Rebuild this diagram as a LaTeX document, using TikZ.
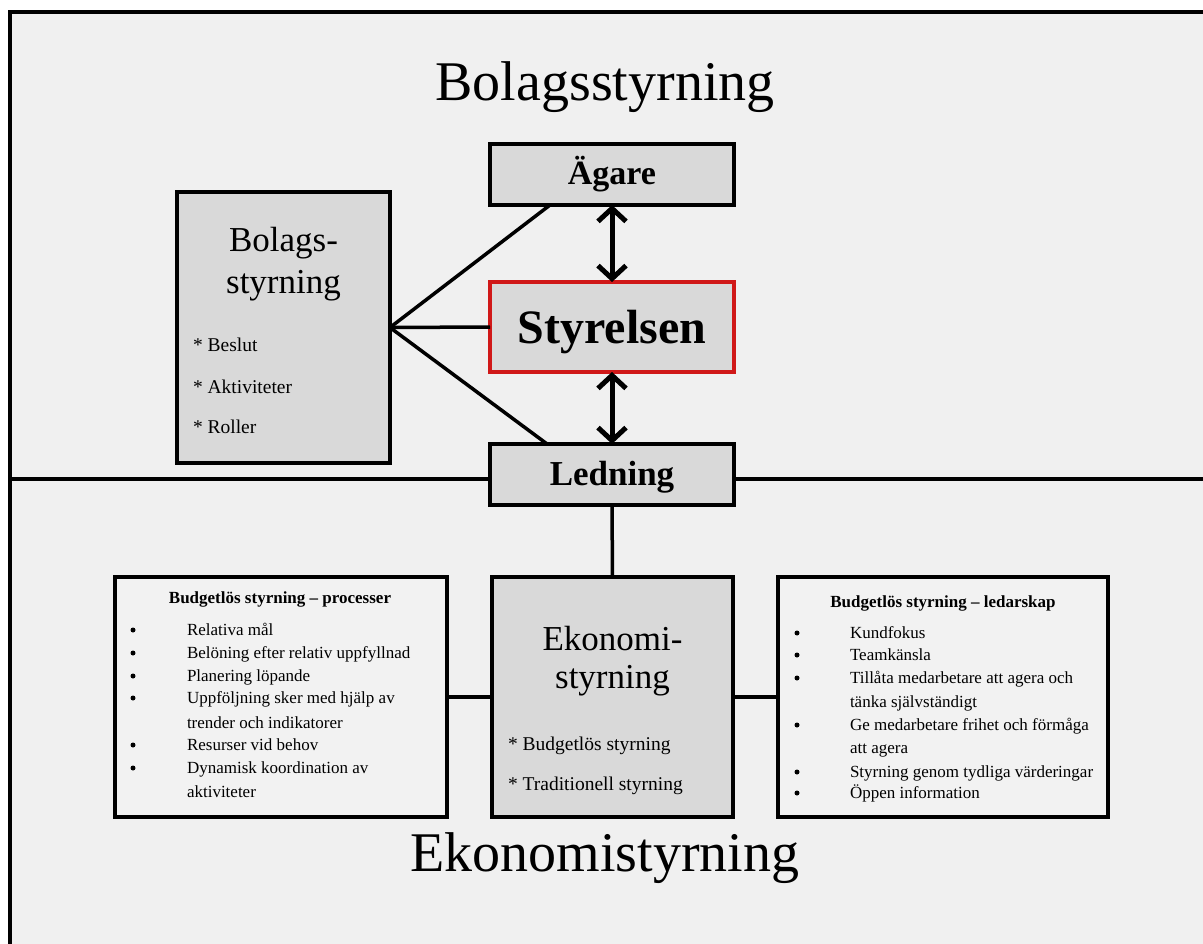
\documentclass[tikz,border=0pt]{standalone}
\usepackage{fontspec}
\setmainfont{Liberation Serif}
\usetikzlibrary{arrows.meta,calc}
\definecolor{bggray}{HTML}{F0F0F0}
\definecolor{boxgray}{HTML}{D9D9D9}
\definecolor{listgray}{HTML}{F2F2F2}
\definecolor{boardred}{HTML}{D01818}
\begin{document}
\begin{tikzpicture}[x=1pt,y=-1pt,
  box/.style={rectangle, draw=black, line width=3.5pt, fill=boxgray, inner sep=0pt, outer sep=0pt},
  listbox/.style={box, fill=listgray},
  redbox/.style={box, draw=boardred},
  link/.style={draw=black, line width=3.5pt},
  twoway/.style={draw=black, line width=5pt,
    {Straight Barb[length=13pt,width=28pt]}-{Straight Barb[length=13pt,width=28pt]}},
  lbl/.style={inner sep=0pt, outer sep=0pt, anchor=base},
  lblw/.style={inner sep=0pt, outer sep=0pt, anchor=base west},
  bigtitle/.style={lbl, font=\fontsize{56}{60}\selectfont},
  boxtitle/.style={lbl, font=\fontsize{35}{40}\selectfont},
  boldtitle/.style={lbl, font=\fontsize{35}{40}\selectfont\bfseries},
  item/.style={lblw, font=\fontsize{19.5}{22}\selectfont},
  listhead/.style={lbl, font=\fontsize{17}{19}\selectfont\bfseries},
  listtext/.style={lblw, font=\fontsize{17}{19}\selectfont},
  listbullet/.style={circle, fill=black, inner sep=0pt, minimum size=5pt}
]
\useasboundingbox (0,0) rectangle (1203,944);
\fill[white] (0,0) rectangle (1203,944);
\fill[bggray] (10,12) rectangle (1203,944);
\draw[line width=4pt] (10,944) -- (10,12) -- (1203,12);

% titles
\node[bigtitle] (t1) at (605,101) {Bolagsstyrning};
\node[bigtitle] (t2) at (605,871) {Ekonomistyrning};

% boxes
\node[box, minimum width=213pt, minimum height=271pt] (bolag) at (283.5,327.5) {};
\node[box, minimum width=244pt, minimum height=61pt] (agare) at (612,174.5) {};
\node[redbox, minimum width=244pt, minimum height=90pt] (styr) at (612,327) {};
\node[box, minimum width=244pt, minimum height=61pt] (led) at (612,474.5) {};
\node[box, minimum width=241pt, minimum height=240pt] (eko) at (612.5,697) {};
\node[listbox, minimum width=332pt, minimum height=240pt] (proc) at (281,697) {};
\node[listbox, minimum width=330pt, minimum height=240pt] (ledar) at (943,697) {};

% divider line
\coordinate (divL) at (10,479);
\coordinate (divR) at (1203,479);
\draw[link] (divL) -- (divL -| led.west);
\draw[link] (led.east |- divR) -- (divR);

% connectors
\coordinate (agareFoot) at ($(agare.south west)!0.246!(agare.south east)$);
\coordinate (ledHead) at ($(led.north west)!0.234!(led.north east)$);
\draw[link] (bolag.east) -- (agareFoot);
\draw[link] (bolag.east) -- (styr.west);
\draw[link] (bolag.east) -- (ledHead);
\draw[twoway] (agare.south) -- (styr.north);
\draw[twoway] (styr.south) -- (led.north);
\draw[link] (led.south) -- (eko.north);
\draw[link] (proc.east) -- (eko.west);
\draw[link] (eko.east) -- (ledar.west);

% box texts
\node[boldtitle, font=\fontsize{34}{40}\selectfont\bfseries] (agareT) at (612,185) {Ägare};
\node[lbl, font=\fontsize{48}{54}\selectfont\bfseries] (styrT) at (612,343) {Styrelsen};
\node[boldtitle] (ledT) at (612,485) {Ledning};

\node[boxtitle] (bolagT1) at (283.5,252) {Bolags-};
\node[boxtitle] (bolagT2) at (283.5,294) {styrning};
\node[item] (bolagI1) at (193,352) {* Beslut};
\node[item] (bolagI2) at (193,393) {* Aktiviteter};
\node[item] (bolagI3) at (193,433) {* Roller};

\node[boxtitle] (ekoT1) at (612.5,650) {Ekonomi-};
\node[boxtitle] (ekoT2) at (612.5,688) {styrning};
\node[item] (ekoI1) at (508,750) {* Budgetlös styrning};
\node[item] (ekoI2) at (508,790) {* Traditionell styrning};

% process list
\node[listhead] (procH) at (280,603) {Budgetlös styrning – processer};
\foreach \yy/\b/\t [count=\i] in {
  635/1/Relativa mål,
  658/1/Belöning efter relativ uppfyllnad,
  681/1/Planering löpande,
  703/1/Uppföljning sker med hjälp av,
  728/0/trender och indikatorer,
  750/1/Resurser vid behov,
  773/1/Dynamisk koordination av,
  797/0/aktiviteter}{
  \node[listtext] (procL\i) at (187,\yy) {\t};
  \ifnum\b=1 \node[listbullet] (procB\i) at (133,\yy-5) {};\fi
}

% leadership list
\node[listhead] (ledarH) at (943,607) {Budgetlös styrning – ledarskap};
\foreach \yy/\b/\t [count=\i] in {
  638/1/Kundfokus,
  660/1/Teamkänsla,
  683/1/Tillåta medarbetare att agera och,
  707/0/tänka självständigt,
  730/1/Ge medarbetare frihet och förmåga,
  753/0/att agera,
  777/1/Styrning genom tydliga värderingar,
  798/1/Öppen information}{
  \node[listtext] (ledarL\i) at (850,\yy) {\t};
  \ifnum\b=1 \node[listbullet] (ledarB\i) at (797,\yy-5) {};\fi
}
\end{tikzpicture}
\end{document}
